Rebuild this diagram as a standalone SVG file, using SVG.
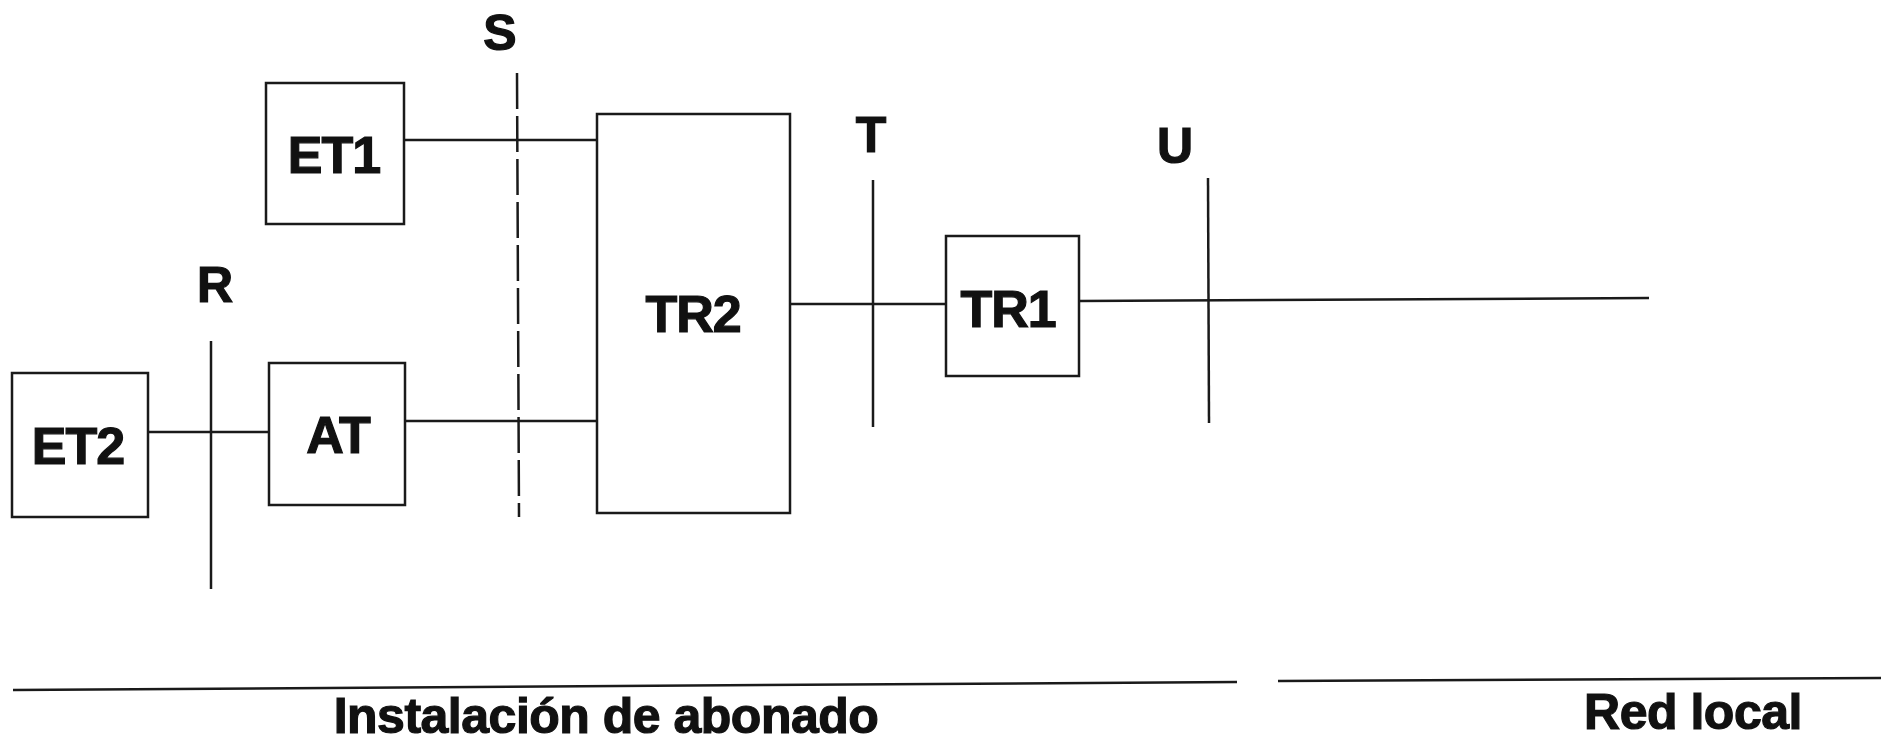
<svg xmlns="http://www.w3.org/2000/svg" width="1881" height="741" viewBox="0 0 1881 741">
<style>
.box{fill:none;stroke:#1a1a1a;stroke-width:2.5}
.ln{fill:none;stroke:#1a1a1a;stroke-width:2.5}
.lbl{font-family:"Liberation Sans",Arial,sans-serif;font-weight:bold;font-size:52px;fill:#111;stroke:#111;stroke-width:1.2;text-anchor:middle;letter-spacing:-1px}
.ref{font-family:"Liberation Sans",Arial,sans-serif;font-weight:bold;font-size:50px;fill:#111;stroke:#111;stroke-width:1.2;text-anchor:middle}
.cap{font-family:"Liberation Sans",Arial,sans-serif;font-weight:bold;font-size:50px;fill:#111;stroke:#111;stroke-width:1.2;text-anchor:middle;letter-spacing:-0.5px}
</style>
<rect width="1881" height="741" fill="#fff"/>
<g id="connectors">
<line class="ln" x1="404" y1="140" x2="597" y2="140"/>
<line class="ln" x1="148" y1="432" x2="269" y2="432"/>
<line class="ln" x1="405" y1="421" x2="597" y2="421"/>
<line class="ln" x1="790" y1="304" x2="946" y2="304"/>
<line class="ln" x1="1079" y1="301" x2="1649" y2="298"/>
</g>
<g id="ref-S">
<line class="ln" x1="517" y1="73" x2="519" y2="517" stroke-dasharray="36 7"/>
<text class="ref" x="500" y="50">S</text>
</g>
<g id="ref-R">
<line class="ln" x1="211" y1="341" x2="211" y2="589"/>
<text class="ref" x="215" y="302">R</text>
</g>
<g id="ref-T">
<line class="ln" x1="873" y1="180" x2="873" y2="427"/>
<text class="ref" x="871" y="152">T</text>
</g>
<g id="ref-U">
<line class="ln" x1="1208" y1="178" x2="1209" y2="423"/>
<text class="ref" x="1175" y="163">U</text>
</g>
<g id="ET1">
<rect class="box" x="266" y="83" width="138" height="141"/>
<text class="lbl" x="334" y="173">ET1</text>
</g>
<g id="ET2">
<rect class="box" x="12" y="373" width="136" height="144"/>
<text class="lbl" x="78" y="464">ET2</text>
</g>
<g id="AT">
<rect class="box" x="269" y="363" width="136" height="142"/>
<text class="lbl" x="338" y="453">AT</text>
</g>
<g id="TR2">
<rect class="box" x="597" y="114" width="193" height="399"/>
<text class="lbl" x="693" y="332">TR2</text>
</g>
<g id="TR1">
<rect class="box" x="946" y="236" width="133" height="140"/>
<text class="lbl" x="1008" y="327">TR1</text>
</g>
<g id="footer">
<line class="ln" x1="13" y1="690" x2="1237" y2="682" stroke-width="3"/>
<line class="ln" x1="1278" y1="681" x2="1881" y2="678" stroke-width="3"/>
<text class="cap" x="606" y="733">Instalación de abonado</text>
<text class="cap" x="1693" y="729">Red local</text>
</g>
</svg>
